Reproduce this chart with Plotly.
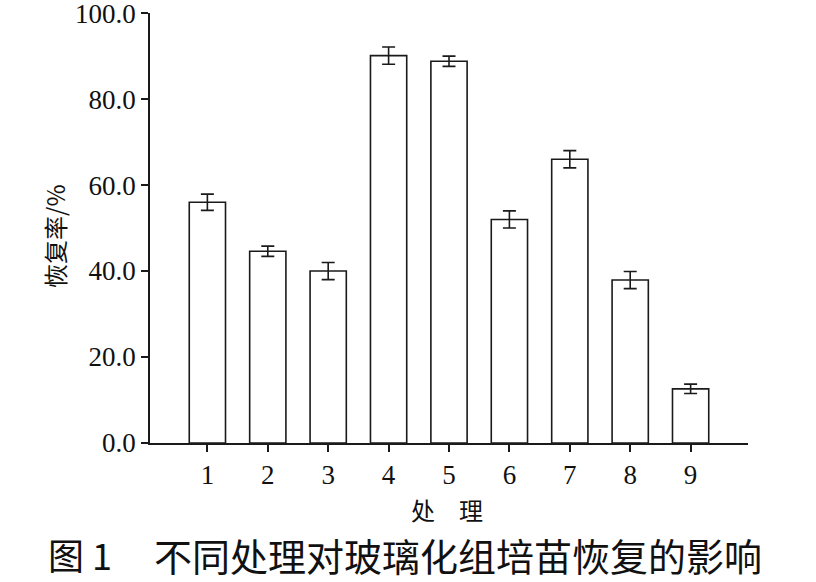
import plotly.graph_objects as go

treatments = ["1", "2", "3", "4", "5", "6", "7", "8", "9"]
recovery = [56.0, 44.6, 40.0, 90.1, 88.8, 52.0, 66.0, 37.9, 12.6]
errors = [1.9, 1.2, 2.0, 2.0, 1.2, 2.0, 2.0, 2.0, 1.1]
y_tick_vals = [0, 20, 40, 60, 80, 100]
y_tick_text = ["0.0", "20.0", "40.0", "60.0", "80.0", "100.0"]

W, H = 816, 582
L, R, T, B = 150, 68, 13, 139

fig = go.Figure()
fig.add_trace(go.Bar(
    x=[int(t) for t in treatments],
    y=recovery,
    width=0.6,
    marker=dict(color="white", line=dict(color="#1a1a1a", width=1.6)),
    error_y=dict(type="data", array=errors, visible=True, color="#1a1a1a",
                 thickness=1.6, width=6.5),
    showlegend=False,
))

serif = "Liberation Serif, Times New Roman, serif"
cjk = "Noto Sans CJK SC"

fig.update_layout(
    width=W, height=H,
    margin=dict(l=L, r=R, t=T, b=B, pad=0, autoexpand=False),
    paper_bgcolor="white", plot_bgcolor="white",
    font=dict(family=serif, color="#111", size=27),
    xaxis=dict(
        range=[0.05, 9.95], automargin=False,
        tickmode="array", tickvals=[int(t) for t in treatments], ticktext=treatments,
        ticks="outside", ticklen=7, tickwidth=1.5, tickcolor="#1a1a1a",
        showline=True, linecolor="#1a1a1a", linewidth=1.6,
        showgrid=False, zeroline=False, ticklabeloverflow="allow",
        tickfont=dict(family=serif, size=27, color="#111"),
    ),
    yaxis=dict(
        range=[0, 100.02], automargin=False,
        tickmode="array", tickvals=y_tick_vals, ticktext=y_tick_text,
        ticks="outside", ticklen=7, tickwidth=1.5, tickcolor="#1a1a1a",
        showline=True, linecolor="#1a1a1a", linewidth=1.6,
        showgrid=False, zeroline=False, ticklabeloverflow="allow",
        tickfont=dict(family=serif, size=27, color="#111"),
    ),
)

def px(x):
    return (x - L) / (W - L - R)

def py(y):
    return (H - B - y) / (H - T - B)

fig.add_annotation(text="恢复率/%", xref="paper", yref="paper",
                   x=px(55), y=py(236), textangle=-90, showarrow=False,
                   font=dict(family=cjk, size=24, color="#111"),
                   xanchor="center", yanchor="middle")
fig.add_annotation(text="处　理", xref="paper", yref="paper",
                   x=px(447), y=py(510), showarrow=False,
                   font=dict(family=cjk, size=24, color="#111"),
                   xanchor="center", yanchor="middle")
fig.add_annotation(text="图 1", xref="paper", yref="paper",
                   x=px(46), y=py(554), showarrow=False,
                   font=dict(family=cjk, size=36, color="#111"),
                   xanchor="left", yanchor="middle")
fig.add_annotation(text="不同处理对玻璃化组培苗恢复的影响", xref="paper", yref="paper",
                   x=px(152), y=py(554), showarrow=False,
                   font=dict(family=cjk, size=38, color="#111"),
                   xanchor="left", yanchor="middle")

fig.write_html(
    "out.html",
    config={"displayModeBar": False},
    post_script="document.body.style.margin='0';document.body.style.overflow='hidden';",
)
